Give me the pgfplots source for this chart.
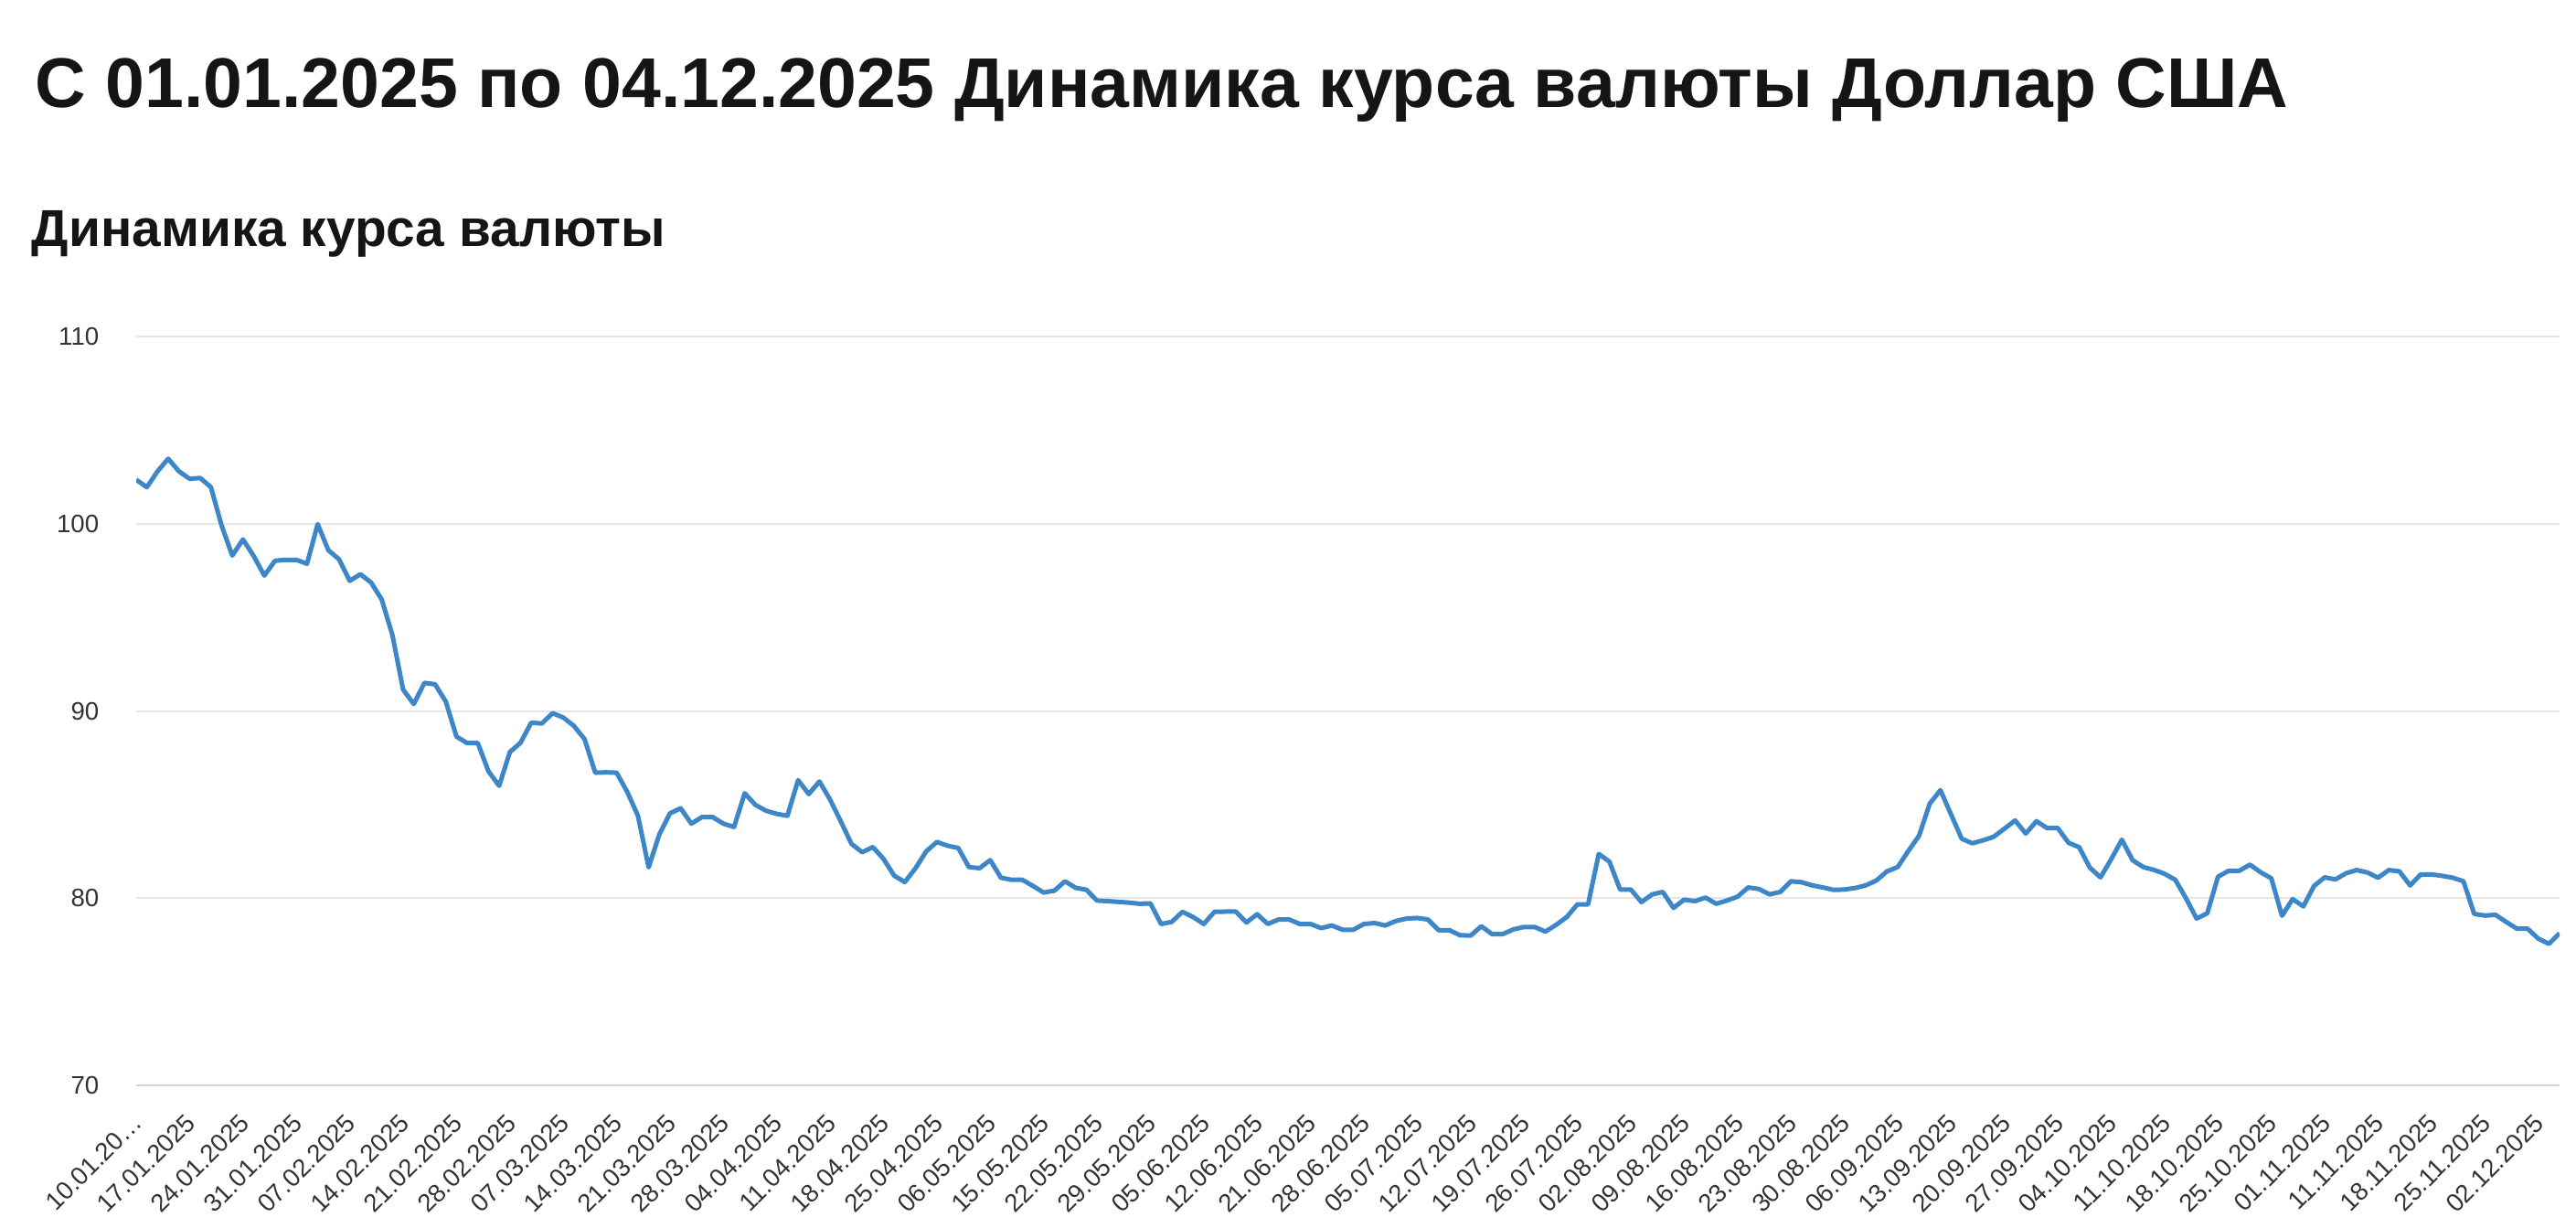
\documentclass[border=0pt]{standalone}
\usepackage{fontspec}
\setmainfont{Liberation Sans}
\usepackage{pgfplots}
\pgfplotsset{compat=1.18}
\usepackage{pgfplotstable}

\definecolor{usdline}{HTML}{3D87C8}
\definecolor{gridc}{HTML}{E6E6E6}
\definecolor{axisc}{HTML}{CCD5E3}
\definecolor{ticktext}{HTML}{333333}
\definecolor{titletext}{HTML}{151515}

% USD rate by trading day (index 0 = 10.01.2025)
\pgfplotstableread{
idx usd
0 102.35
1 101.95
2 102.80
3 103.47
4 102.80
5 102.40
6 102.44
7 101.95
8 99.90
9 98.30
10 99.16
11 98.28
12 97.23
13 98.02
14 98.07
15 98.07
16 97.86
17 99.98
18 98.58
19 98.10
20 96.95
21 97.30
22 96.86
23 95.95
24 94.05
25 91.14
26 90.37
27 91.50
28 91.42
29 90.50
30 88.63
31 88.28
32 88.28
33 86.77
34 86.00
35 87.80
36 88.30
37 89.37
38 89.33
39 89.88
40 89.65
41 89.20
42 88.49
43 86.70
44 86.72
45 86.70
46 85.67
47 84.40
48 81.65
49 83.40
50 84.53
51 84.80
52 83.98
53 84.33
54 84.33
55 83.98
56 83.80
57 85.60
58 84.98
59 84.67
60 84.50
61 84.40
62 86.30
63 85.56
64 86.23
65 85.26
66 84.10
67 82.90
68 82.45
69 82.73
70 82.10
71 81.20
72 80.86
73 81.60
74 82.50
75 83.00
76 82.80
77 82.68
78 81.66
79 81.60
80 82.03
81 81.09
82 80.98
83 80.98
84 80.65
85 80.30
86 80.40
87 80.90
88 80.55
89 80.45
90 79.87
91 79.84
92 79.80
93 79.76
94 79.70
95 79.72
96 78.62
97 78.73
98 79.27
99 78.99
100 78.62
101 79.27
102 79.28
103 79.28
104 78.70
105 79.14
106 78.62
107 78.86
108 78.86
109 78.62
110 78.62
111 78.40
112 78.54
113 78.31
114 78.31
115 78.62
116 78.67
117 78.54
118 78.78
119 78.91
120 78.94
121 78.86
122 78.29
123 78.29
124 78.02
125 78.00
126 78.50
127 78.08
128 78.08
129 78.33
130 78.46
131 78.46
132 78.21
133 78.57
134 78.99
135 79.67
136 79.67
137 82.36
138 81.95
139 80.46
140 80.46
141 79.79
142 80.20
143 80.33
144 79.48
145 79.92
146 79.84
147 80.03
148 79.70
149 79.87
150 80.08
151 80.57
152 80.49
153 80.20
154 80.33
155 80.90
156 80.85
157 80.68
158 80.57
159 80.44
160 80.46
161 80.54
162 80.68
163 80.94
164 81.43
165 81.66
166 82.52
167 83.33
168 85.04
169 85.77
170 84.47
171 83.17
172 82.93
173 83.09
174 83.28
175 83.71
176 84.15
177 83.45
178 84.11
179 83.74
180 83.74
181 82.96
182 82.72
183 81.63
184 81.11
185 82.08
186 83.12
187 82.03
188 81.66
189 81.51
190 81.30
191 80.98
192 80.00
193 78.91
194 79.19
195 81.14
196 81.46
197 81.46
198 81.79
199 81.38
200 81.06
201 79.06
202 79.95
203 79.56
204 80.65
205 81.11
206 81.00
207 81.33
208 81.50
209 81.37
210 81.09
211 81.50
212 81.43
213 80.68
214 81.27
215 81.27
216 81.19
217 81.09
218 80.90
219 79.16
220 79.07
221 79.11
222 78.73
223 78.37
224 78.37
225 77.84
226 77.56
227 78.13
}\usdrates

\begin{document}
\begin{tikzpicture}
\useasboundingbox (0,0) rectangle (704.5pt,335.5pt);
\node[anchor=base west, inner sep=0pt, text=titletext,
      font=\fontsize{19.25}{23}\selectfont\bfseries]
  at (9.5pt,306pt) {С 01.01.2025 по 04.12.2025 Динамика курса валюты Доллар США};
\node[anchor=base west, inner sep=0pt, text=titletext,
      font=\fontsize{14.2}{17}\selectfont\bfseries]
  at (8.5pt,268pt) {Динамика курса валюты};
\begin{axis}[
    at={(37.25pt,38.75pt)}, anchor=south west,
    scale only axis,
    width=662.75pt, height=204.75pt,
    xmin=0, xmax=227, ymin=70, ymax=110,
    axis x line*=bottom, axis y line*=left,
    x axis line style={draw=axisc, line width=0.6pt},
    y axis line style={draw=none},
    major tick length=0pt,
    ymajorgrids, grid style={draw=gridc, line width=0.5pt},
    ytick={70,80,90,100,110},
    xtick={0,5,...,225},
    xticklabels={10.01.20…,17.01.2025,24.01.2025,31.01.2025,07.02.2025,14.02.2025,21.02.2025,28.02.2025,07.03.2025,14.03.2025,21.03.2025,28.03.2025,04.04.2025,11.04.2025,18.04.2025,25.04.2025,06.05.2025,15.05.2025,22.05.2025,29.05.2025,05.06.2025,12.06.2025,21.06.2025,28.06.2025,05.07.2025,12.07.2025,19.07.2025,26.07.2025,02.08.2025,09.08.2025,16.08.2025,23.08.2025,30.08.2025,06.09.2025,13.09.2025,20.09.2025,27.09.2025,04.10.2025,11.10.2025,18.10.2025,25.10.2025,01.11.2025,11.11.2025,18.11.2025,25.11.2025,02.12.2025},
    /pgf/number format/assume math mode=true,
    tick label style={font=\fontsize{6.9}{8}\selectfont, text=ticktext},
    yticklabel style={anchor=east, inner sep=0pt, xshift=-10pt},
    % shifts act in the rotated frame
    xticklabel style={rotate=45, anchor=east, inner sep=0pt, xshift=-6pt, yshift=-6.7pt},
  ]
  \addplot[usdline, line width=1.25pt, line join=round] table[x=idx, y=usd] {\usdrates};
\end{axis}
\end{tikzpicture}
\end{document}
